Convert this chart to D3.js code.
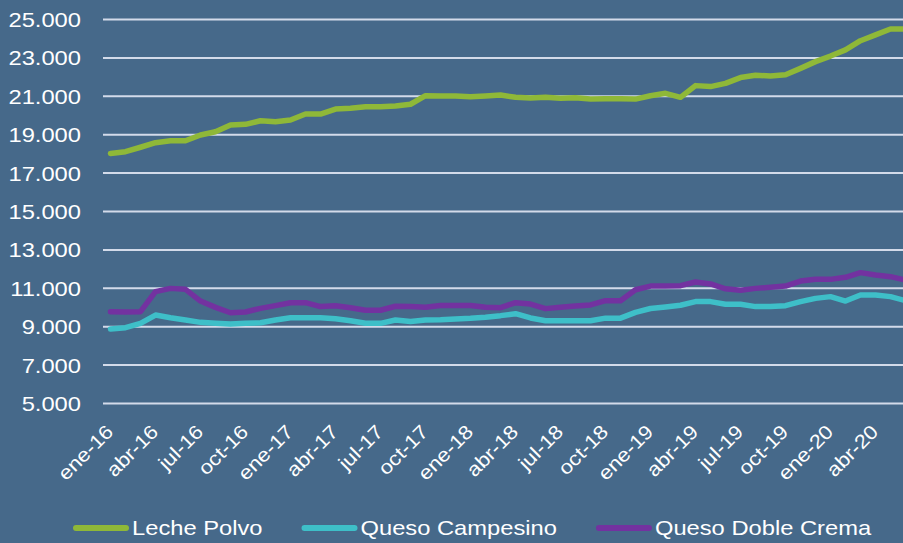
<!DOCTYPE html>
<html>
<head>
<meta charset="utf-8">
<script src="https://cdn.jsdelivr.net/npm/d3@7"></script>
<style>
  html, body { margin: 0; padding: 0; background: #46698a; }
  svg { display: block; }
</style>
</head>
<body>
<svg id="chart"></svg>
<script>
// meses y años del eje x (ene-16 .. jun-20)
const meses = ["ene", "feb", "mar", "abr", "may", "jun", "jul", "ago", "sep", "oct", "nov", "dic"];
const anios = ["16", "17", "18", "19", "20"];
const numMeses = 54;

const lechePolvo = [
  18000, 18090, 18320, 18560, 18660, 18660, 18960, 19130, 19480, 19515, 19700, 19650,
  19740, 20050, 20050, 20310, 20350, 20430, 20430, 20470, 20560, 21005, 20990, 20990,
  20950, 20990, 21040, 20920, 20885, 20920, 20870, 20900, 20830, 20850, 20850, 20830,
  21005, 21130, 20920, 21530, 21480, 21650, 21950, 22070, 22030, 22100, 22430, 22780,
  23070, 23390, 23870, 24170, 24480, 24480
];
const quesoCampesino = [
  8854, 8920, 9150, 9580, 9440, 9320, 9200, 9150, 9115, 9150, 9180, 9320,
  9440, 9440, 9440, 9390, 9285, 9150, 9150, 9320, 9250, 9320, 9340, 9380,
  9410, 9470, 9550, 9650, 9430, 9285, 9285, 9285, 9285, 9420, 9420, 9720,
  9920, 10000, 10090, 10280, 10280, 10140, 10140, 10020, 10020, 10070, 10280, 10450,
  10540, 10310, 10625, 10625, 10540, 10330
];
const quesoDobleCrema = [
  9755, 9740, 9755, 10800, 10970, 10920, 10310, 9980, 9700, 9740, 9930, 10070,
  10225, 10225, 10020, 10060, 9965, 9830, 9830, 10040, 10020, 9990, 10080, 10080,
  10080, 9985, 9965, 10225, 10155, 9915, 9985, 10050, 10110, 10330, 10330, 10900,
  11090, 11090, 11110, 11300, 11200, 10950, 10870, 10970, 11025, 11090, 11350, 11440,
  11440, 11545, 11790, 11670, 11580, 11400
];
const yTicks = [5000, 7000, 9000, 11000, 13000, 15000, 17000, 19000, 21000, 23000, 25000];

const width = 903, height = 543;
const plotLeft = 103, plotTop = 19, plotBottom = 403, band = 15;
const sx = 1.13; // el texto del original está un poco estirado a lo ancho

const categorias = [];
anios.forEach(a => meses.forEach(m => categorias.push(m + "-" + a)));
categorias.length = numMeses;
const xTicks = categorias.filter((d, i) => i % 3 === 0);

const series = [
  { name: "Leche Polvo", values: lechePolvo, color: "#8fb838" },
  { name: "Queso Campesino", values: quesoCampesino, color: "#3ebfc8" },
  { name: "Queso Doble Crema", values: quesoDobleCrema, color: "#7332a0" }
];

const locale = d3.formatLocale({ decimal: ",", thousands: ".", grouping: [3], currency: ["$", ""] });
const fmt = locale.format(",.0f");

const svg = d3.select("#chart")
  .attr("width", width)
  .attr("height", height)
  .style("font-family", "'Liberation Sans', Arial, sans-serif");

svg.append("rect")
  .attr("width", width)
  .attr("height", height)
  .attr("fill", "#46698a");

const x = d3.scaleBand()
  .domain(categorias)
  .range([plotLeft, plotLeft + band * categorias.length]);

const y = d3.scaleLinear()
  .domain([5000, 25000])
  .range([plotBottom, plotTop]);

// eje y con lineas de cuadricula
const yAxis = svg.append("g")
  .attr("transform", "translate(" + plotLeft + ",0)")
  .call(d3.axisLeft(y)
    .tickValues(yTicks)
    .tickFormat(fmt)
    .tickSize(-(band * categorias.length)));

yAxis.select(".domain").remove();
yAxis.selectAll(".tick line")
  .attr("stroke", "#d3dbea")
  .attr("stroke-width", 2);
yAxis.selectAll(".tick text")
  .attr("x", null)
  .attr("dy", null)
  .attr("transform", "translate(-22,7.5) scale(" + sx + ",1)")
  .attr("fill", "#ffffff")
  .style("font-size", "21px")
  .style("text-anchor", "end");

// etiquetas del eje x, rotadas 45 grados
svg.append("g")
  .selectAll("text")
  .data(xTicks)
  .enter()
  .append("text")
  .text(d => d)
  .attr("transform", d =>
    "translate(" + (x(d) + x.bandwidth() / 2 + 4) + ",433) rotate(-45) scale(" + sx + ",1)")
  .attr("fill", "#ffffff")
  .style("font-size", "19.5px")
  .style("text-anchor", "end");

// lineas
const line = d3.line()
  .x((d, i) => x(categorias[i]) + x.bandwidth() / 2)
  .y(d => y(d));

svg.append("g")
  .selectAll("path")
  .data(series)
  .enter()
  .append("path")
  .attr("d", d => line(d.values))
  .attr("fill", "none")
  .attr("stroke", d => d.color)
  .attr("stroke-width", 5.5)
  .attr("stroke-linejoin", "round")
  .attr("stroke-linecap", "round");

// leyenda
let lx = 74;
const legend = svg.append("g");
series.forEach(s => {
  legend.append("line")
    .attr("x1", lx + 2).attr("x2", lx + 52)
    .attr("y1", 528).attr("y2", 528)
    .attr("stroke", s.color)
    .attr("stroke-width", 6)
    .attr("stroke-linecap", "round");
  const t = legend.append("text")
    .text(s.name)
    .attr("transform", "translate(" + (lx + 58) + ",535) scale(" + sx + ",1)")
    .attr("fill", "#ffffff")
    .style("font-size", "21px");
  lx = lx + 58 + t.node().getComputedTextLength() * sx + 40;
});
</script>
</body>
</html>
